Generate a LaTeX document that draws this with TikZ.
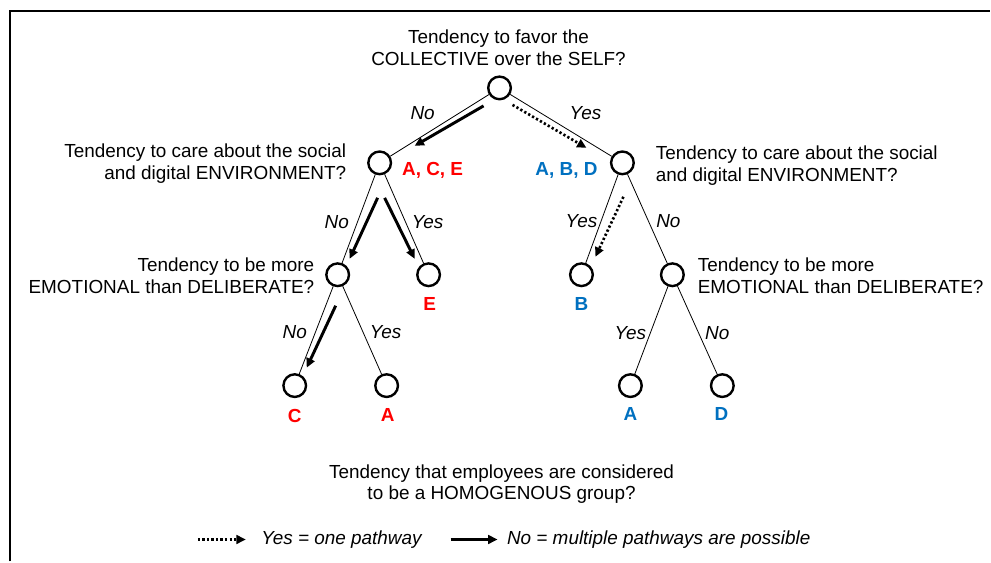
\documentclass[tikz,border=0pt]{standalone}
\usepackage{fontspec}
\setmainfont{Liberation Sans}
\usetikzlibrary{arrows.meta}

\definecolor{grpred}{RGB}{255,0,0}
\definecolor{grpblue}{RGB}{0,112,192}

\tikzset{every picture/.style={line width=0.75pt}}
\tikzset{
  choice/.style={circle,draw,line width=1.8pt,minimum size=17pt,inner sep=0pt},
  question/.style={inner sep=0pt,font=\fontsize{14.2pt}{16.2pt}\selectfont},
  answer/.style={inner sep=0pt,font=\fontsize{14.2pt}{16.2pt}\selectfont\itshape},
  redgrp/.style={inner sep=0pt,text=grpred,font=\fontsize{14.2pt}{16.2pt}\selectfont\bfseries},
  bluegrp/.style={inner sep=0pt,text=grpblue,font=\fontsize{14.2pt}{16.2pt}\selectfont\bfseries},
  branch/.style={line width=0.6pt},
  manyway/.style={line width=2.2pt,-{Triangle[length=7pt,width=6.5pt]}},
  oneway/.style={line width=2pt,dash pattern=on 1.7pt off 1.7pt,-{Triangle[length=7pt,width=6.5pt]}}
}

\begin{document}
\begin{tikzpicture}[x=0.75pt,y=0.75pt,yscale=-1,xscale=1]
\path (0,0) rectangle (991,562);

%Frame
\draw [line width=1.4pt] (10,562) -- (10,11) -- (991,11) ;

%Shape: Circles
\node [choice] (root) at (500,88) {};
\node [choice] (envL) at (380,163) {};
\node [choice] (envR) at (623,163) {};
\node [choice] (emoL) at (338,275) {};
\node [choice] (leafE) at (429,275) {};
\node [choice] (leafB) at (582,275) {};
\node [choice] (emoR) at (673,275) {};
\node [choice] (leafC) at (295,386) {};
\node [choice] (leafAl) at (387,386) {};
\node [choice] (leafAr) at (631,386) {};
\node [choice] (leafD) at (723,386) {};

%Straight Lines
\draw [branch] (root) -- (envL) ;
\draw [branch] (root) -- (envR) ;
\draw [branch] (envL) -- (emoL) ;
\draw [branch] (envL) -- (leafE) ;
\draw [branch] (envR) -- (leafB) ;
\draw [branch] (envR) -- (emoR) ;
\draw [branch] (emoL) -- (leafC) ;
\draw [branch] (emoL) -- (leafAl) ;
\draw [branch] (emoR) -- (leafAr) ;
\draw [branch] (emoR) -- (leafD) ;

%Arrows
\coordinate (a1s) at (484,106) ; \coordinate (a1e) at (415,146) ;
\coordinate (a2s) at (378,198) ; \coordinate (a2e) at (350,259) ;
\coordinate (a3s) at (385,198) ; \coordinate (a3e) at (415,259) ;
\coordinate (a4s) at (336,306) ; \coordinate (a4e) at (307,368) ;
\coordinate (a5s) at (513,105) ; \coordinate (a5e) at (587,148) ;
\coordinate (a6s) at (624,197) ; \coordinate (a6e) at (596,257) ;
\draw [manyway] (a1s) -- (a1e) ;
\draw [manyway] (a2s) -- (a2e) ;
\draw [manyway] (a3s) -- (a3e) ;
\draw [manyway] (a4s) -- (a4e) ;
\draw [oneway] (a5s) -- (a5e) ;
\draw [oneway] (a6s) -- (a6e) ;

% Text Node
\node [question,align=center] (qself) at (499,47.5) {Tendency to favor the\\COLLECTIVE over the SELF?};
\node [question,align=right,anchor=east] (qenvL) at (347,164) {Tendency to care about the social\\and digital ENVIRONMENT?};
\node [question,align=left,anchor=west] (qenvR) at (656,166) {Tendency to care about the social\\and digital ENVIRONMENT?};
\node [question,align=right,anchor=east] (qemoL) at (315,276) {Tendency to be more\\EMOTIONAL than DELIBERATE?};
\node [question,align=left,anchor=west] (qemoR) at (698,276) {Tendency to be more\\EMOTIONAL than DELIBERATE?};
\node [question,align=center] (qhomo) at (502,484.5) {Tendency that employees are considered\\to be a HOMOGENOUS group?};

% Text Node
\node [answer] (n1) at (423,113) {No};
\node [answer] (y1) at (586,113) {Yes};
\node [answer] (n2) at (337,222) {No};
\node [answer] (y2) at (428,222) {Yes};
\node [answer] (y3) at (582,221) {Yes};
\node [answer] (n3) at (669,221) {No};
\node [answer] (n4) at (295,332) {No};
\node [answer] (y4) at (386,332) {Yes};
\node [answer] (y5) at (631,333) {Yes};
\node [answer] (n5) at (718,333) {No};

% Text Node
\node [redgrp] (gACE) at (433,171) {A, C, E};
\node [bluegrp] (gABD) at (567,171) {A, B, D};
\node [redgrp] (gE) at (430,304) {E};
\node [bluegrp] (gB) at (582,304) {B};
\node [redgrp] (gC) at (295,416) {C};
\node [redgrp] (gA) at (388,415) {A};
\node [bluegrp] (gAb) at (631,414) {A};
\node [bluegrp] (gD) at (722,414) {D};

%Legend
\coordinate (k1s) at (198,540) ; \coordinate (k1e) at (246,540) ;
\coordinate (k2s) at (451,540) ; \coordinate (k2e) at (498,540) ;
\draw [oneway] (k1s) -- (k1e) ;
\draw [manyway] (k2s) -- (k2e) ;
\node [answer,anchor=west] (kyes) at (261,540) {Yes = one pathway};
\node [answer,anchor=west] (kno) at (507,540) {No = multiple pathways are possible};
\end{tikzpicture}
\end{document}
